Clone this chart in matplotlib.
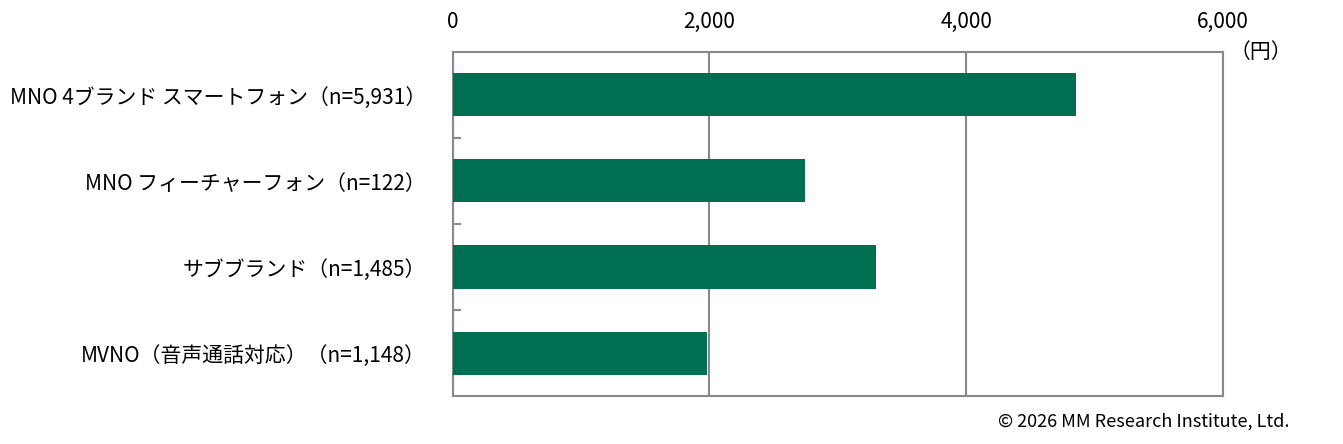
import matplotlib
matplotlib.use("Agg")
import matplotlib.pyplot as plt
from matplotlib.ticker import FuncFormatter, FixedLocator

plt.rcParams['font.family'] = ['Noto Sans CJK JP', 'DejaVu Sans']

categories = [
    "MNO 4ブランド スマートフォン（n=5,931）",
    "MNO フィーチャーフォン（n=122）",
    "サブブランド（n=1,485）",
    "MVNO（音声通話対応）（n=1,148）",
]
values = [4855, 2743, 3295, 1979]
xticks = [0, 2000, 4000, 6000]
unit_label = "（円）"
credit = "© 2026 MM Research Institute, Ltd."

bar_color = "#006F51"
grid_color = "#898989"

fig = plt.figure(figsize=(13.43, 4.44), dpi=100)
ax = fig.add_axes([452.5/1343, 1-396/444, (1223-452.5)/1343, (396-52)/444])

ypos = list(range(len(categories)))
ax.barh(ypos, values, height=0.5, color=bar_color, zorder=3)
ax.set_ylim(len(categories)-0.5, -0.5)
ax.set_xlim(0, 6000)

ax.xaxis.tick_top()
ax.xaxis.set_major_locator(FixedLocator(xticks))
ax.xaxis.set_major_formatter(FuncFormatter(lambda v, p: f"{int(v):,}"))
ax.tick_params(axis='x', which='major', length=0, pad=14, labelsize=15, colors='black')

ax.set_yticks(ypos)
ax.set_yticklabels(categories, fontsize=15)
ax.yaxis.set_minor_locator(FixedLocator([i + 0.5 for i in range(len(categories)-1)]))
ax.tick_params(axis='y', which='major', length=0, pad=19)
ax.tick_params(axis='y', which='minor', length=6, direction='in', color=grid_color, width=1.5)

ax.grid(axis='x', color=grid_color, linewidth=1.5, zorder=1)
for s in ax.spines.values():
    s.set_color(grid_color)
    s.set_linewidth(1.5)

fig.text(1261/1343, 1-52/444, unit_label, fontsize=15, ha='center', va='center')
fig.text(1290/1343, 1-422/444, credit, fontsize=13, ha='right', va='center')

fig.savefig("out.png", dpi=100)
